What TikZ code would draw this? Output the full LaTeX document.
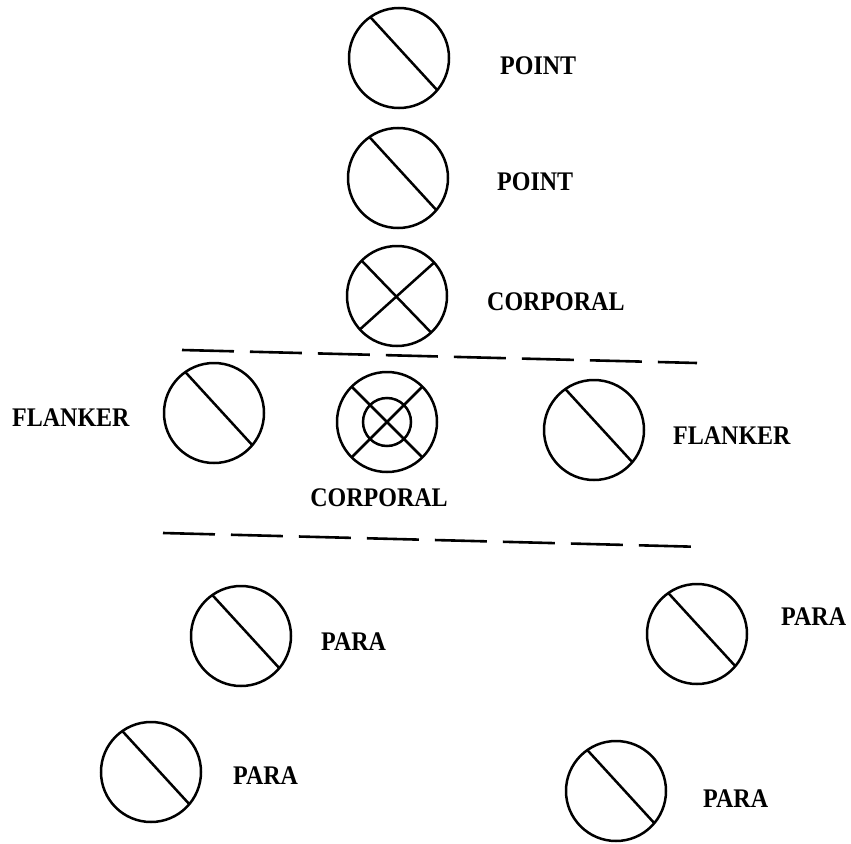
\documentclass[tikz,border=0pt]{standalone}
\usepackage{fontspec}
\usepackage{graphicx}
\setmainfont{Liberation Serif}
\newcommand\tallbox[1]{\scalebox{1}[1.12]{#1}}
\begin{document}
\begin{tikzpicture}[x=1pt,y=-1pt,
  man/.style={circle,draw,line width=2.5pt,minimum size=100pt,inner sep=0pt,outer sep=0pt},
  inner/.style={circle,draw,line width=2.5pt,minimum size=48pt,inner sep=0pt,outer sep=0pt},
  mark line/.style={line width=2.5pt},
  sep line/.style={line width=2.6pt,dash pattern=on 52pt off 16pt},
  lbl/.style={anchor=west,inner sep=0pt,font=\fontsize{24}{26}\selectfont\bfseries}]
\useasboundingbox (0,0) rectangle (851,843);
% circles
\node[man] (c1) at (399,58) {};
\node[man] (c2) at (398,178) {};
\node[man] (c3) at (397,296) {};
\node[man] (f1) at (214,413) {};
\node[man] (cc) at (387,422) {};
\node[inner] (ci) at (387,422) {};
\node[man] (f2) at (594,430) {};
\node[man] (p1) at (241,636) {};
\node[man] (p2) at (697,634) {};
\node[man] (p3) at (151,772) {};
\node[man] (p4) at (616,791) {};
% slashes
\foreach \n in {c1,c2,f1,f2,p1,p2,p3,p4}
  \draw[mark line] (\n.125) -- (\n.-40);
\draw[mark line] (c3.135) -- (c3.-47);
\draw[mark line] (c3.222) -- (c3.42);
\draw[mark line] (cc.135) -- (cc.-45);
\draw[mark line] (cc.225) -- (cc.45);
% dashed separators
\coordinate (d1a) at (182,350);
\coordinate (d1b) at (697,363);
\coordinate (d2a) at (163,533);
\coordinate (d2b) at (705,547);
\draw[sep line] (d1a) -- (d1b);
\draw[sep line] (d2a) -- (d2b);
% labels
\node[lbl] (l1) at (500,66) {\tallbox{POINT}};
\node[lbl] (l2) at (497,182) {\tallbox{POINT}};
\node[lbl] (l3) at (487,302) {\tallbox{CORPORAL}};
\node[lbl] (l4) at (12,418) {\tallbox{FLANKER}};
\node[lbl,anchor=center] (l5) at (379,498) {\tallbox{CORPORAL}};
\node[lbl] (l6) at (673,436) {\tallbox{FLANKER}};
\node[lbl] (l7) at (321,642) {\tallbox{PARA}};
\node[lbl] (l8) at (781,617) {\tallbox{PARA}};
\node[lbl] (l9) at (233,776) {\tallbox{PARA}};
\node[lbl] (l10) at (703,799) {\tallbox{PARA}};
\end{tikzpicture}
\end{document}
